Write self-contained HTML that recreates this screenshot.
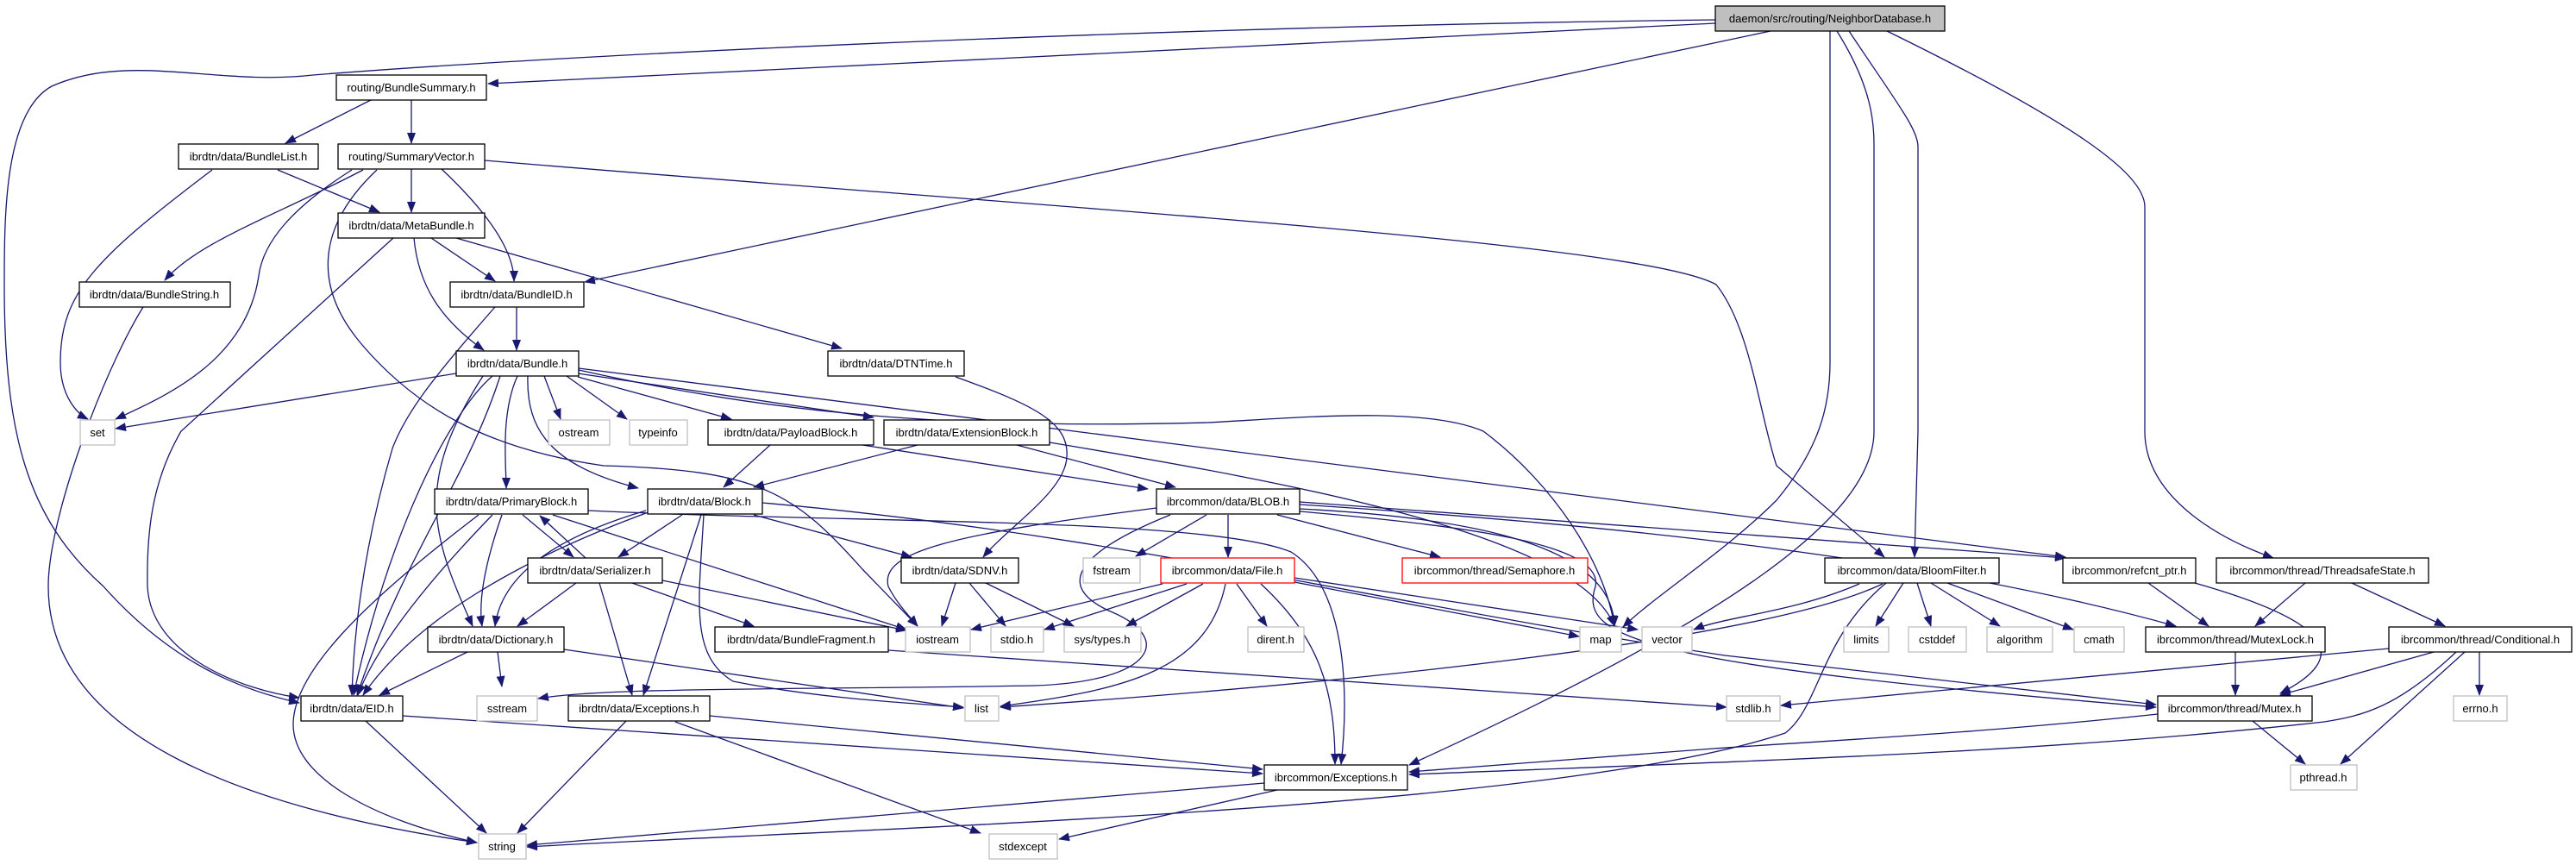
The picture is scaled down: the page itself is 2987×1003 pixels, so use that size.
<!DOCTYPE html>
<html><head><meta charset="utf-8"><style>
html,body{margin:0;padding:0;background:#fff;}
svg{display:block;}
.e{fill:none;stroke:#191970;stroke-width:1.3;marker-end:url(#a);}
.n rect{fill:#fff;stroke:#000;stroke-width:1.3;}
.g rect{fill:#fff;stroke:#bfbfbf;stroke-width:1.3;}
.r rect{fill:#fff;stroke:#ff0000;stroke-width:1.3;}
text{font-family:"Liberation Sans",sans-serif;font-size:13px;fill:#000;text-anchor:middle;}
</style></head><body>
<svg width="2987" height="1003" viewBox="0 0 2987 1003" xmlns="http://www.w3.org/2000/svg">
<defs><marker id="a" markerWidth="13" markerHeight="10" refX="12" refY="5" orient="auto" markerUnits="userSpaceOnUse"><path d="M0,0 L13,5 L0,10 z" fill="#191970"/></marker></defs>

<!-- edges -->
<path class="e" d="M1989,27 L566,97"/>
<path class="e" d="M1989,23 C1400,30 700,60 363,87 C250,100 150,60 60,100 C5,130 5,250 5,330 C5,500 30,600 120,680 C200,770 280,800 347,815"/>
<path class="e" d="M2053,36 L678,327"/>
<path class="e" d="M2122,36 L2122,420 C2122,470 2110,520 2060,580 C2000,640 1920,690 1882,727"/>
<path class="e" d="M2130,36 C2170,100 2173,140 2173,170 L2173,500 C2173,600 2000,720 1634,887"/>
<path class="e" d="M2144,36 C2200,120 2224,150 2224,170 L2224,500 L2220,646"/>
<path class="e" d="M2188,36 C2400,140 2487,200 2487,240 L2487,500 C2487,570 2560,620 2636,647"/>

<path class="e" d="M430,116 L331,166"/>
<path class="e" d="M477,116 L477,166"/>
<path class="e" d="M477,196 L477,246"/>
<path class="e" d="M512,196 C580,260 596,300 596,326"/>
<path class="e" d="M408,197 C340,240 305,280 300,320 C285,420 190,460 134,486"/>
<path class="e" d="M421,197 C320,250 230,280 191,325"/>
<path class="e" d="M437,197 C370,260 360,330 420,400 C480,470 560,520 700,540 C880,545 920,570 1000,660 L1064,726"/>
<path class="e" d="M562,186 C1200,240 1900,280 1990,330 C2030,380 2040,480 2060,540 L2185,646"/>
<path class="e" d="M322,197 L440,246"/>
<path class="e" d="M246,197 C110,300 70,340 70,420 C70,460 90,480 102,486"/>

<path class="e" d="M500,276 L574,326"/>
<path class="e" d="M480,276 C485,330 510,370 561,406"/>
<path class="e" d="M456,276 L210,500 C175,560 170,620 171,680 C175,760 280,800 347,809"/>
<path class="e" d="M529,276 L976,404"/>
<path class="e" d="M166,356 C120,430 56,600 56,680 C56,860 300,940 553,977"/>
<path class="e" d="M599,356 L599,406"/>
<path class="e" d="M574,356 C500,440 470,480 455,520 C420,640 410,740 408,806"/>

<path class="e" d="M529,433 L134,497"/>
<path class="e" d="M571,436 C520,480 450,620 410,806"/>
<path class="e" d="M580,436 C540,560 470,640 414,806"/>
<path class="e" d="M600,436 C580,480 587,540 587,566"/>
<path class="e" d="M612,436 C610,500 640,540 740,566"/>
<path class="e" d="M560,436 C480,560 500,620 548,726"/>
<path class="e" d="M631,436 L650,486"/>
<path class="e" d="M657,436 L727,486"/>
<path class="e" d="M670,437 L848,486"/>
<path class="e" d="M670,433 L1013,484"/>
<path class="e" d="M671,427 L2395,646"/>
<path class="e" d="M671,429 C900,480 1100,498 1400,490 C1500,485 1650,470 1720,500 C1800,560 1860,650 1872,726"/>
<path class="e" d="M1108,437 C1200,470 1240,490 1237,530 C1235,570 1170,610 1140,646"/>

<path class="e" d="M893,516 L839,565"/>
<path class="e" d="M1000,516 L1331,567"/>
<path class="e" d="M1179,516 L1363,565"/>
<path class="e" d="M1064,516 L874,565"/>
<path class="e" d="M1217,513 C1500,560 1830,620 1872,726"/>

<path class="e" d="M791,597 L717,646"/>
<path class="e" d="M749,592 C620,630 580,680 574,726"/>
<path class="e" d="M749,595 C600,650 480,720 421,806"/>
<path class="e" d="M813,597 L746,806"/>
<path class="e" d="M816,597 C810,700 800,760 850,790 C950,810 1050,815 1117,820"/>
<path class="e" d="M874,597 L1057,646"/>
<path class="e" d="M884,583 C1300,620 1600,700 2000,760 L2500,817"/>

<path class="e" d="M555,597 C420,700 340,780 340,840 C340,900 430,950 553,977"/>
<path class="e" d="M571,597 C510,660 440,740 415,806"/>
<path class="e" d="M582,597 C560,660 555,700 559,726"/>
<path class="e" d="M606,597 L665,646"/>
<path class="e" d="M679,647 L626,598"/>
<path class="e" d="M641,597 L1051,730"/>
<path class="e" d="M682,592 C1000,607 1400,600 1497,640 C1560,680 1565,800 1555,886"/>

<path class="e" d="M668,676 L600,726"/>
<path class="e" d="M695,676 L733,806"/>
<path class="e" d="M733,676 L874,726"/>
<path class="e" d="M768,673 L1051,731"/>
<path class="e" d="M542,756 L440,806"/>
<path class="e" d="M577,756 L582,796"/>
<path class="e" d="M654,753 L1117,821"/>
<path class="e" d="M424,836 L564,966"/>
<path class="e" d="M467,830 L1464,897"/>
<path class="e" d="M726,836 L600,966"/>
<path class="e" d="M783,837 L1137,966"/>
<path class="e" d="M823,830 L1464,892"/>
<path class="e" d="M1466,908 L611,980"/>
<path class="e" d="M1481,916 L1228,973"/>

<path class="e" d="M1507,582 L2395,647"/>
<path class="e" d="M1507,585 C1900,610 2250,650 2523,726"/>
<path class="e" d="M1507,593 C1700,610 1860,630 1850,680 C1830,740 1900,770 2500,820"/>
<path class="e" d="M1341,589 C1100,620 1020,640 1030,680 C1040,700 1055,715 1064,726"/>
<path class="e" d="M1357,597 C1250,640 1220,680 1290,710 C1360,740 1340,790 1200,795 C900,800 700,797 624,810"/>
<path class="e" d="M1399,597 L1317,645"/>
<path class="e" d="M1424,597 L1424,646"/>
<path class="e" d="M1481,597 L1670,646"/>
<path class="e" d="M1507,590 C1700,600 1870,630 1872,726"/>

<path class="e" d="M1348,677 L1126,730"/>
<path class="e" d="M1376,677 L1211,730"/>
<path class="e" d="M1395,677 L1306,726"/>
<path class="e" d="M1421,677 C1400,780 1300,800 1160,819"/>
<path class="e" d="M1434,677 L1469,726"/>
<path class="e" d="M1462,677 C1530,740 1548,800 1548,886"/>
<path class="e" d="M1501,675 L1831,738"/>
<path class="e" d="M1501,670 L1899,730"/>
<path class="e" d="M1108,676 L1092,726"/>
<path class="e" d="M1124,676 L1166,726"/>
<path class="e" d="M1143,676 L1245,726"/>

<path class="e" d="M2207,676 L2175,726"/>
<path class="e" d="M2223,676 L2239,726"/>
<path class="e" d="M2239,676 L2319,726"/>
<path class="e" d="M2258,676 L2404,730"/>
<path class="e" d="M2156,677 C2080,710 2000,715 1964,730"/>
<path class="e" d="M2183,677 C2050,740 1600,790 1160,820"/>
<path class="e" d="M2187,676 C2110,740 2110,820 2070,850 C1800,940 1000,960 611,982"/>
<path class="e" d="M2491,676 L2561,726"/>
<path class="e" d="M2545,676 C2700,720 2730,760 2644,804"/>
<path class="e" d="M2673,676 L2615,726"/>
<path class="e" d="M2727,676 L2835,726"/>
<path class="e" d="M2592,756 L2592,806"/>
<path class="e" d="M2822,756 L2644,806"/>
<path class="e" d="M2875,756 L2875,806"/>
<path class="e" d="M2858,756 L2714,886"/>
<path class="e" d="M2770,752 L2065,818"/>
<path class="e" d="M2612,836 L2673,886"/>
<path class="e" d="M2502,828 C2300,850 2100,860 1987,868 L1634,895"/>
<path class="e" d="M2848,756 C2780,820 2740,830 2695,837 C2400,870 2100,880 1634,898"/>
<path class="e" d="M1030,754 L2002,820"/>

<!-- nodes -->
<g class="n" transform="translate(0,0)"><rect x="1989" y="7" width="266" height="29" style="fill:#bfbfbf"/><text x="2122" y="26">daemon/src/routing/NeighborDatabase.h</text></g>
<g class="n"><rect x="390" y="87" width="174" height="29"/><text x="477" y="106">routing/BundleSummary.h</text></g>
<g class="n"><rect x="207" y="167" width="162" height="29"/><text x="288" y="186">ibrdtn/data/BundleList.h</text></g>
<g class="n"><rect x="392" y="167" width="170" height="29"/><text x="477" y="186">routing/SummaryVector.h</text></g>
<g class="n"><rect x="392" y="247" width="170" height="29"/><text x="477" y="266">ibrdtn/data/MetaBundle.h</text></g>
<g class="n"><rect x="92" y="327" width="175" height="29"/><text x="179" y="346">ibrdtn/data/BundleString.h</text></g>
<g class="n"><rect x="522" y="327" width="155" height="29"/><text x="599" y="346">ibrdtn/data/BundleID.h</text></g>
<g class="n"><rect x="529" y="407" width="142" height="29"/><text x="600" y="426">ibrdtn/data/Bundle.h</text></g>
<g class="n"><rect x="960" y="407" width="158" height="29"/><text x="1039" y="426">ibrdtn/data/DTNTime.h</text></g>
<g class="g"><rect x="93" y="487" width="40" height="29"/><text x="113" y="506">set</text></g>
<g class="g"><rect x="636" y="487" width="71" height="29"/><text x="671" y="506">ostream</text></g>
<g class="g"><rect x="730" y="487" width="67" height="29"/><text x="763" y="506">typeinfo</text></g>
<g class="n"><rect x="821" y="487" width="192" height="29"/><text x="917" y="506">ibrdtn/data/PayloadBlock.h</text></g>
<g class="n"><rect x="1025" y="487" width="192" height="29"/><text x="1121" y="506">ibrdtn/data/ExtensionBlock.h</text></g>
<g class="n"><rect x="504" y="567" width="178" height="29"/><text x="593" y="586">ibrdtn/data/PrimaryBlock.h</text></g>
<g class="n"><rect x="751" y="567" width="133" height="29"/><text x="817" y="586">ibrdtn/data/Block.h</text></g>
<g class="n"><rect x="1341" y="567" width="166" height="29"/><text x="1424" y="586">ibrcommon/data/BLOB.h</text></g>
<g class="n"><rect x="612" y="647" width="156" height="29"/><text x="690" y="666">ibrdtn/data/Serializer.h</text></g>
<g class="n"><rect x="1045" y="647" width="136" height="29"/><text x="1113" y="666">ibrdtn/data/SDNV.h</text></g>
<g class="g"><rect x="1256" y="647" width="66" height="29"/><text x="1289" y="666">fstream</text></g>
<g class="r"><rect x="1346" y="647" width="155" height="29"/><text x="1423" y="666">ibrcommon/data/File.h</text></g>
<g class="r"><rect x="1626" y="647" width="215" height="29"/><text x="1733" y="666">ibrcommon/thread/Semaphore.h</text></g>
<g class="n"><rect x="2116" y="647" width="202" height="29"/><text x="2217" y="666">ibrcommon/data/BloomFilter.h</text></g>
<g class="n"><rect x="2392" y="647" width="154" height="29"/><text x="2469" y="666">ibrcommon/refcnt_ptr.h</text></g>
<g class="n"><rect x="2570" y="647" width="246" height="29"/><text x="2693" y="666">ibrcommon/thread/ThreadsafeState.h</text></g>
<g class="n"><rect x="496" y="727" width="158" height="29"/><text x="575" y="746">ibrdtn/data/Dictionary.h</text></g>
<g class="n"><rect x="829" y="727" width="201" height="29"/><text x="929" y="746">ibrdtn/data/BundleFragment.h</text></g>
<g class="g"><rect x="1050" y="727" width="75" height="29"/><text x="1087" y="746">iostream</text></g>
<g class="g"><rect x="1149" y="727" width="61" height="29"/><text x="1179" y="746">stdio.h</text></g>
<g class="g"><rect x="1234" y="727" width="89" height="29"/><text x="1278" y="746">sys/types.h</text></g>
<g class="g"><rect x="1447" y="727" width="65" height="29"/><text x="1479" y="746">dirent.h</text></g>
<g class="g"><rect x="1832" y="727" width="48" height="29"/><text x="1856" y="746">map</text></g>
<g class="g"><rect x="1904" y="727" width="58" height="29"/><text x="1933" y="746">vector</text></g>
<g class="g"><rect x="2138" y="727" width="52" height="29"/><text x="2164" y="746">limits</text></g>
<g class="g"><rect x="2213" y="727" width="67" height="29"/><text x="2246" y="746">cstddef</text></g>
<g class="g"><rect x="2304" y="727" width="76" height="29"/><text x="2342" y="746">algorithm</text></g>
<g class="g"><rect x="2405" y="727" width="58" height="29"/><text x="2434" y="746">cmath</text></g>
<g class="n"><rect x="2488" y="727" width="208" height="29"/><text x="2592" y="746">ibrcommon/thread/MutexLock.h</text></g>
<g class="n"><rect x="2770" y="727" width="212" height="29"/><text x="2876" y="746">ibrcommon/thread/Conditional.h</text></g>
<g class="n"><rect x="349" y="807" width="118" height="29"/><text x="408" y="826">ibrdtn/data/EID.h</text></g>
<g class="g"><rect x="553" y="807" width="70" height="29"/><text x="588" y="826">sstream</text></g>
<g class="n"><rect x="659" y="807" width="164" height="29"/><text x="741" y="826">ibrdtn/data/Exceptions.h</text></g>
<g class="g"><rect x="1119" y="807" width="39" height="29"/><text x="1138" y="826">list</text></g>
<g class="g"><rect x="2002" y="807" width="62" height="29"/><text x="2033" y="826">stdlib.h</text></g>
<g class="n"><rect x="2502" y="807" width="179" height="29"/><text x="2591" y="826">ibrcommon/thread/Mutex.h</text></g>
<g class="g"><rect x="2845" y="807" width="62" height="29"/><text x="2876" y="826">errno.h</text></g>
<g class="n"><rect x="1466" y="887" width="166" height="29"/><text x="1549" y="906">ibrcommon/Exceptions.h</text></g>
<g class="g"><rect x="2656" y="887" width="77" height="29"/><text x="2694" y="906">pthread.h</text></g>
<g class="g"><rect x="555" y="967" width="55" height="29"/><text x="582" y="986">string</text></g>
<g class="g"><rect x="1147" y="967" width="79" height="29"/><text x="1186" y="986">stdexcept</text></g>
</svg>
</body></html>
